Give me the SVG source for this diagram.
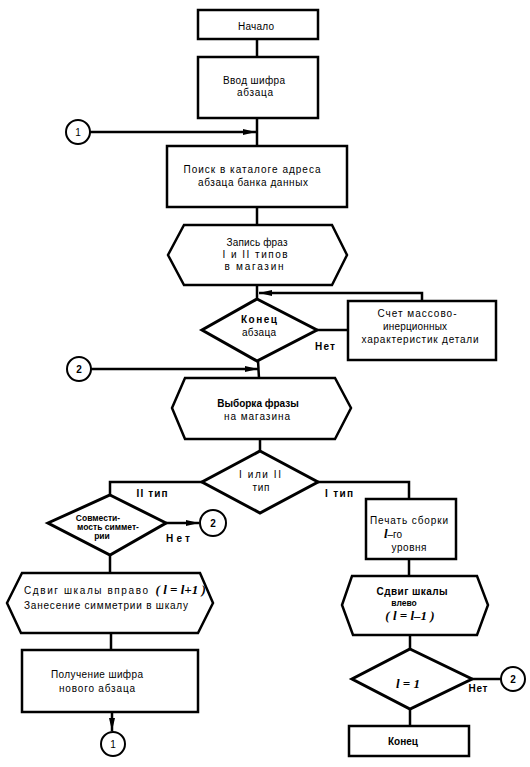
<svg xmlns="http://www.w3.org/2000/svg" width="530" height="767" viewBox="0 0 530 767">
<defs>
<style>
.b{fill:#fff;stroke:#000;stroke-width:2.5;stroke-linejoin:miter}
.d{fill:#fff;stroke:#000;stroke-width:3;stroke-linejoin:miter}
.c{fill:#fff;stroke:#000;stroke-width:2}
.l{fill:none;stroke:#000;stroke-width:2.5}
text{font-family:"Liberation Sans","DejaVu Sans",sans-serif;font-size:10px;fill:#000;text-anchor:middle}
.bo{font-weight:bold}
.le{text-anchor:start}
.it{font-family:"Liberation Serif",serif;font-style:italic;font-weight:bold;font-size:13px}
.sm{font-size:8.5px;font-weight:bold}
</style>
<marker id="ar" markerUnits="userSpaceOnUse" markerWidth="14" markerHeight="8" refX="13" refY="4" orient="auto">
<path d="M0,1 L13,4 L0,7 z" fill="#000"/>
</marker>
</defs>
<rect width="530" height="767" fill="#fff"/>
<g id="connectors">
<line class="l" x1="257" y1="39" x2="257" y2="57"/>
<line class="l" x1="257" y1="118" x2="257" y2="146"/>
<line class="l" x1="90" y1="132" x2="256" y2="132" marker-end="url(#ar)"/>
<line class="l" x1="257" y1="207" x2="257" y2="225"/>
<line class="l" x1="257" y1="285" x2="257" y2="299"/>
<polyline class="l" points="422,301 422,293 259,293" marker-end="url(#ar)"/>
<line class="l" x1="317" y1="330" x2="348" y2="330"/>
<line class="l" x1="258" y1="361" x2="259" y2="378"/>
<line class="l" x1="91" y1="369" x2="258" y2="369" marker-end="url(#ar)"/>
<line class="l" x1="260" y1="439" x2="260" y2="451"/>
<polyline class="l" points="202,482 110,482 110,495"/>
<polyline class="l" points="318,482 409,482 409,499"/>
<line class="l" x1="166" y1="523" x2="199" y2="523" marker-end="url(#ar)"/>
<line class="l" x1="110" y1="555" x2="110" y2="573"/>
<line class="l" x1="111" y1="633" x2="111" y2="650"/>
<line class="l" x1="112" y1="712" x2="112" y2="731" marker-end="url(#ar)"/>
<line class="l" x1="409" y1="559" x2="409" y2="576"/>
<line class="l" x1="410" y1="635" x2="410" y2="649"/>
<line class="l" x1="472" y1="679" x2="501" y2="679"/>
<line class="l" x1="410" y1="709" x2="410" y2="726"/>
</g>
<g id="start">
<rect class="b" x="198" y="10" width="120" height="29"/>
<text x="256" y="30" textLength="36" lengthAdjust="spacing">Начало</text>
</g>
<g id="input">
<rect class="b" x="198" y="57" width="120" height="61"/>
<text x="254" y="84" textLength="62" lengthAdjust="spacing">Ввод шифра</text>
<text x="255" y="96" textLength="36" lengthAdjust="spacing">абзаца</text>
</g>
<g id="conn1top">
<circle class="c" cx="78" cy="132" r="12"/>
<text x="78" y="136">1</text>
</g>
<g id="search">
<rect class="b" x="167" y="146" width="180" height="61"/>
<text x="252" y="173" textLength="137" lengthAdjust="spacing">Поиск в каталоге адреса</text>
<text x="253" y="186" textLength="110" lengthAdjust="spacing">абзаца банка данных</text>
</g>
<g id="write">
<polygon class="b" points="184,225 332,225 347,255 332,285 184,285 168,255"/>
<text x="257" y="246" textLength="61" lengthAdjust="spacing">Запись фраз</text>
<text x="255" y="258" textLength="65" lengthAdjust="spacing">I и II типов</text>
<text x="254" y="270" textLength="59" lengthAdjust="spacing">в магазин</text>
</g>
<g id="endpar">
<polygon class="d" points="257,299 317,330 257,361 202,330"/>
<text class="bo" x="259" y="323" textLength="36" lengthAdjust="spacing">Конец</text>
<text x="259" y="336" textLength="34" lengthAdjust="spacing">абзаца</text>
<text class="bo" x="325" y="350" textLength="20" lengthAdjust="spacing">Нет</text>
</g>
<g id="count">
<rect class="b" x="348" y="301" width="148" height="59"/>
<text x="417" y="317" textLength="79" lengthAdjust="spacing">Счет массово-</text>
<text x="415" y="330" textLength="64" lengthAdjust="spacing">инерционных</text>
<text x="420" y="343" textLength="117" lengthAdjust="spacing">характеристик детали</text>
</g>
<g id="conn2a">
<circle class="c" cx="79" cy="369" r="12"/>
<text class="bo" x="79" y="373">2</text>
</g>
<g id="fetch">
<polygon class="b" points="185,378 335,378 351,408 335,439 185,439 172,408"/>
<text class="bo" x="258" y="407" font-size="9.5">Выборка фразы</text>
<text x="257" y="420" textLength="66" lengthAdjust="spacing">на магазина</text>
</g>
<g id="type">
<polygon class="d" points="260,451 318,482 260,513 202,482"/>
<text x="260" y="478" textLength="42" lengthAdjust="spacing">I или II</text>
<text x="261" y="491" textLength="17" lengthAdjust="spacing">тип</text>
<text class="bo" x="152" y="497" textLength="31" lengthAdjust="spacing">II тип</text>
<text class="bo" x="339" y="497" textLength="28" lengthAdjust="spacing">I тип</text>
</g>
<g id="compat">
<polygon class="d" points="110,495 166,523 110,555 48,523"/>
<text class="sm" x="98" y="521">Совмести-</text>
<text class="sm" x="108" y="530">мость симмет-</text>
<text class="sm" x="102" y="539">рии</text>
<text class="bo" x="178" y="542" textLength="24" lengthAdjust="spacing">Нет</text>
</g>
<g id="conn2b">
<circle class="c" cx="213" cy="523" r="13"/>
<text class="bo" x="213" y="527">2</text>
</g>
<g id="shiftright">
<polygon class="b" points="22,573 200,573 213,603 198,633 21,633 7,603"/>
<text class="le" x="24" y="594"><tspan textLength="124" lengthAdjust="spacing">Сдвиг шкалы вправо</tspan><tspan class="it" dx="6" font-size="12">( l = l+1 )</tspan></text>
<text class="le" x="24" y="609" textLength="164" lengthAdjust="spacing">Занесение симметрии в шкалу</text>
</g>
<g id="newcode">
<rect class="b" x="22" y="650" width="176" height="62"/>
<text x="97" y="678" textLength="92" lengthAdjust="spacing">Получение шифра</text>
<text x="97" y="692" textLength="76" lengthAdjust="spacing">нового абзаца</text>
</g>
<g id="conn1bot">
<circle class="c" cx="113" cy="744" r="12"/>
<text x="113" y="748">1</text>
</g>
<g id="print">
<rect class="b" x="366" y="499" width="90" height="60"/>
<text x="409" y="524" textLength="78" lengthAdjust="spacing">Печать сборки</text>
<text x="393" y="538"><tspan class="it" font-size="11">l</tspan>–го</text>
<text x="409" y="551" textLength="35" lengthAdjust="spacing">уровня</text>
</g>
<g id="shiftleft">
<polygon class="b" points="352,576 477,576 488,605 477,635 353,635 342,605"/>
<text class="bo" x="412" y="595" textLength="71" lengthAdjust="spacing">Сдвиг шкалы</text>
<text class="sm" x="404" y="606" font-size="8">влево</text>
<text class="it" x="410" y="620">( l = l–1 )</text>
</g>
<g id="lcheck">
<polygon class="d" points="410,649 472,679 410,709 352,679"/>
<text class="it" x="408" y="688">l = 1</text>
<text class="bo" x="478" y="692" textLength="19" lengthAdjust="spacing">Нет</text>
</g>
<g id="conn2c">
<circle class="c" cx="513" cy="679" r="12"/>
<text class="bo" x="513" y="683">2</text>
</g>
<g id="end">
<rect class="b" x="349" y="726" width="120" height="30"/>
<text class="bo" x="403" y="745" textLength="30" lengthAdjust="spacing">Конец</text>
</g>
</svg>
